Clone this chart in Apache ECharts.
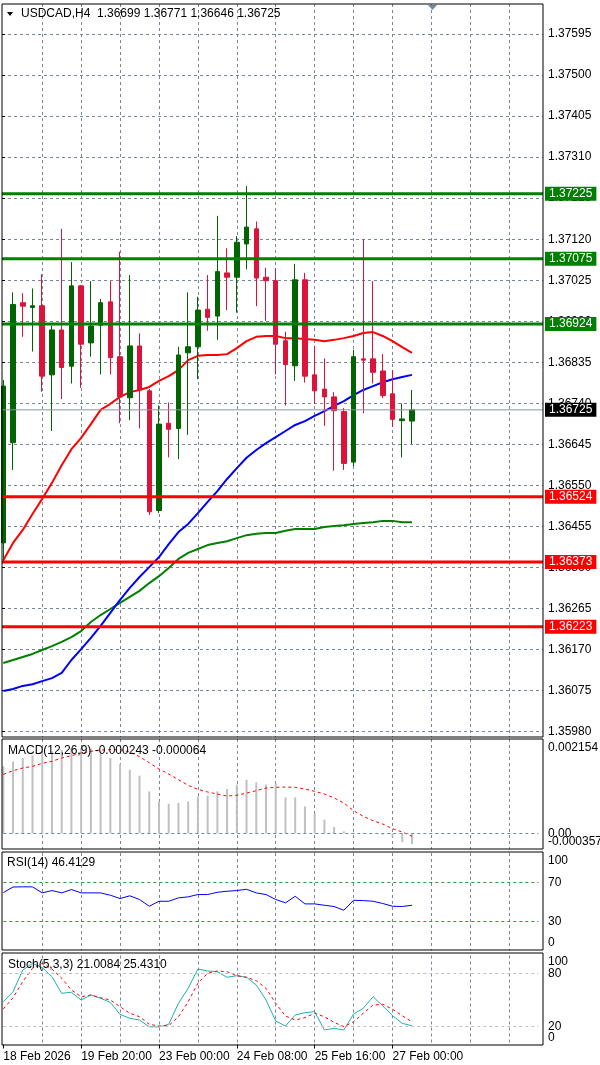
<!DOCTYPE html>
<html>
<head>
<meta charset="utf-8">
<title>USDCAD,H4</title>
<script src="https://cdn.jsdelivr.net/npm/echarts@6.0.0/dist/echarts.min.js"></script>
<style>
html, body { margin: 0; padding: 0; background: #fff; }
#chart { width: 600px; height: 1065px; }
</style>
</head>
<body>
<div id="chart"></div>
<script>
//H4 bars, oldest first
var opens  = [1.36417,1.36649,1.36973,1.36962,1.36966,1.36806,1.36910,1.36826,1.37012,1.36880,1.36921,1.36975,1.36848,1.36753,1.36873,1.36769,1.36492,1.36694,1.36682,1.36857,1.36871,1.36958,1.36942,1.37042,1.37032,1.37109,1.37144,1.37032,1.37024,1.36885,1.36827,1.37026,1.36806,1.36773,1.36755,1.36721,1.36604,1.36843,1.36843,1.36815,1.36762,1.36700,1.36699];
var highs  = [1.36794,1.36997,1.36995,1.37006,1.37039,1.36920,1.37144,1.37067,1.37014,1.37023,1.36982,1.37023,1.37091,1.37037,1.36902,1.36773,1.36735,1.36742,1.36871,1.36997,1.36987,1.37037,1.37174,1.37099,1.37127,1.37243,1.37161,1.37054,1.37053,1.36906,1.37063,1.37042,1.36873,1.36844,1.36766,1.36729,1.36864,1.37120,1.37023,1.36854,1.36817,1.36740,1.36771];
var lows   = [1.36371,1.36586,1.36894,1.36860,1.36767,1.36676,1.36750,1.36786,1.36776,1.36848,1.36807,1.36807,1.36694,1.36701,1.36682,1.36482,1.36486,1.36615,1.36611,1.36667,1.36796,1.36908,1.36887,1.36956,1.36950,1.37050,1.36965,1.36931,1.36807,1.36735,1.36792,1.36788,1.36739,1.36688,1.36584,1.36586,1.36595,1.36717,1.36786,1.36752,1.36685,1.36615,1.36646];
var closes = [1.36780,1.36969,1.36965,1.36966,1.36803,1.36910,1.36823,1.37012,1.36877,1.36919,1.36973,1.36846,1.36755,1.36873,1.36771,1.36489,1.36692,1.36680,1.36852,1.36871,1.36956,1.36939,1.37045,1.37032,1.37113,1.37148,1.37030,1.37024,1.36877,1.36830,1.37026,1.36803,1.36769,1.36755,1.36723,1.36601,1.36848,1.36840,1.36812,1.36758,1.36703,1.36704,1.36725];

//moving averages
var maRed   = [1.36377,1.36417,1.36447,1.36484,1.36519,1.36556,1.36597,1.36634,1.36660,1.36692,1.36725,1.36739,1.36755,1.36766,1.36771,1.36778,1.36792,1.36803,1.36817,1.36840,1.36850,1.36852,1.36852,1.36854,1.36868,1.36884,1.36894,1.36896,1.36896,1.36891,1.36891,1.36889,1.36887,1.36884,1.36887,1.36891,1.36896,1.36903,1.36905,1.36896,1.36884,1.36870,1.36857];
var maBlue  = [1.36074,1.36079,1.36086,1.36090,1.36097,1.36104,1.36116,1.36146,1.36171,1.36197,1.36225,1.36255,1.36285,1.36313,1.36338,1.36361,1.36384,1.36414,1.36442,1.36461,1.36486,1.36512,1.36537,1.36565,1.36590,1.36614,1.36632,1.36648,1.36662,1.36676,1.36690,1.36699,1.36711,1.36722,1.36734,1.36745,1.36759,1.36771,1.36780,1.36789,1.36796,1.36801,1.36806];
var maGreen = [1.36139,1.36146,1.36153,1.36160,1.36169,1.36178,1.36188,1.36199,1.36213,1.36234,1.36250,1.36264,1.36278,1.36292,1.36306,1.36324,1.36340,1.36359,1.36380,1.36394,1.36403,1.36412,1.36417,1.36421,1.36428,1.36435,1.36438,1.36440,1.36440,1.36445,1.36449,1.36449,1.36449,1.36454,1.36456,1.36458,1.36461,1.36463,1.36465,1.36468,1.36468,1.36465,1.36465];

//horizontal levels
var greenLevels = [1.37225, 1.37075, 1.36924];
var redLevels = [1.36524, 1.36373, 1.36223];

//price scale
var priceMin = 1.35980, priceMax = 1.37595, priceStep = 0.00095;

//MACD(12,26,9)
var macdHist   = [0.001530,0.001644,0.001720,0.001781,0.001834,0.001872,0.001910,0.001933,0.001948,0.001933,0.001872,0.001720,0.001583,0.001454,0.001317,0.000959,0.000731,0.000677,0.000693,0.000731,0.000845,0.000860,0.000959,0.001012,0.001111,0.001225,0.001164,0.001111,0.001134,0.000822,0.000822,0.000616,0.000449,0.000312,0.000145,0.000046,0.000015,0.000015,0.000005,-0.000030,-0.000076,-0.000198,-0.000243];
var macdSignal = [0.001347,0.001431,0.001492,0.001530,0.001598,0.001644,0.001720,0.001773,0.001834,0.001872,0.001903,0.001910,0.001910,0.001857,0.001750,0.001613,0.001469,0.001355,0.001225,0.001096,0.001005,0.000944,0.000898,0.000852,0.000868,0.000921,0.000974,0.001035,0.001050,0.001058,0.001050,0.001012,0.000959,0.000898,0.000807,0.000693,0.000517,0.000388,0.000289,0.000213,0.000107,0.000030,-0.000064];
var macdTicks  = [0.002154, 0, -0.000357];

//RSI(14)
var rsi = [59.4,65.1,65.3,65.3,59.1,61.5,59.1,62.5,59.1,59.1,59.1,56.7,53.3,56.1,52.3,45.4,50.5,50.5,54.0,55.0,57.4,57.4,59.7,60.8,61.5,62.8,59.1,57.4,52.3,48.9,55.6,47.8,47.8,46.4,45.1,41.3,51.5,51.2,50.5,48.2,45.4,45.1,46.4129];
var rsiTicks = [100, 70, 30, 0];

//Stoch(5,3,3)
var stochMain   = [48.1,59.3,83.7,91.2,86.3,76.2,57.5,58.7,50.0,55.6,51.9,47.4,33.9,29.4,27.5,20.0,19.7,22.7,46.3,63.1,84.8,82.6,81.8,75.5,77.3,75.5,66.9,50.0,26.4,20.8,33.1,35.7,36.9,16.3,18.2,16.3,34.3,40.7,53.7,43.3,32.4,23.8,21.0084];
var stochSignal = [39.9,52.6,70.6,85.6,91.2,84.8,74.4,61.2,53.7,55.6,52.6,50.0,42.5,35.1,31.2,22.7,20.8,21.1,31.2,48.1,68.8,80.0,82.6,81.8,77.3,75.5,71.7,63.1,46.3,32.0,27.5,30.1,35.1,31.2,24.9,20.0,25.6,35.1,44.4,45.2,39.6,32.4,25.431];
var stochTicks = [100, 80, 20, 0];

//time axis
var barSlots = 56;
var xTickBar  = [0, 8, 16, 24, 32, 40];
var xTickText = ['18 Feb 2026', '19 Feb 20:00', '23 Feb 00:00', '24 Feb 08:00', '25 Feb 16:00', '27 Feb 00:00'];

var FONT = 'Liberation Sans';
var last = closes.length - 1;

var categories = [];
for (var i = 0; i < barSlots; i++) categories.push(String(i));

var candleData = [];
for (var k = 0; k < opens.length; k++) {
	candleData.push([opens[k], closes[k], lows[k], highs[k]]);
}

var gridDash = { color: '#778899', type: [3, 3], width: 1 };
var L = 3.3, W = 535.15;

function near(a, b) { return Math.abs(a - b) < 1e-9; }

//category axis for a panel
function catAxis(gridIndex, withGrid) {
	return {
		type: 'category', gridIndex: gridIndex, data: categories, boundaryGap: false,
		axisLine: { show: false }, axisTick: { show: false }, axisLabel: { show: false },
		splitLine: {
			show: withGrid,
			interval: function (idx) { return idx > 0 && idx % 4 === 0; },
			lineStyle: gridDash
		}
	};
}

//right side value labels of a sub window, one axis per label so none get hidden
function subAxes(gridIndex, min, max, ticks, digits, padTop, padBot) {
	return ticks.map(function (t) {
		var s = (t === 0 && digits > 0) ? '0.00' : t.toFixed(digits);
		var txt = s, rich = {};
		if (near(t, max)) { txt = '{t|' + s + '}'; rich.t = { color: '#000', fontFamily: FONT, fontSize: 12, padding: [padTop, 0, 0, 0] }; }
		if (near(t, min)) { txt = '{b|' + s + '}'; rich.b = { color: '#000', fontFamily: FONT, fontSize: 12, padding: [0, 0, padBot, 0] }; }
		return {
			type: 'value', gridIndex: gridIndex, position: 'right', min: min, max: max, offset: 4.55,
			axisLine: { show: false }, axisTick: { show: false }, splitLine: { show: false },
			axisLabel: {
				customValues: [t], margin: 5, color: '#000', fontFamily: FONT, fontSize: 12,
				hideOverlap: false, showMinLabel: true, showMaxLabel: true,
				formatter: function () { return txt; },
				rich: rich
			}
		};
	});
}

function levelSeries(price, color, width, box) {
	return {
		type: 'line', xAxisIndex: 2, yAxisIndex: 2, data: [[0, price], [1, price]],
		symbol: 'none', silent: true, z: 4,
		lineStyle: { color: color, width: width },
		endLabel: {
			show: true, distance: 2, color: '#fff', backgroundColor: box, padding: [1, 4],
			fontFamily: FONT, fontSize: 12,
			formatter: function () { return price.toFixed(5); }
		}
	};
}

var xAxes = [
	catAxis(0, true),
	catAxis(1, false),
	{ type: 'value', gridIndex: 2, min: 0, max: 1, show: false },
	catAxis(3, true),
	catAxis(4, true),
	catAxis(5, true)
];
//time labels under the last window
xAxes[5].axisLabel = {
	show: true, color: '#000', fontFamily: FONT, fontSize: 12, align: 'left', margin: 6,
	interval: function (idx) { return xTickBar.indexOf(idx) >= 0; },
	formatter: function (v, idx) { return xTickText[xTickBar.indexOf(idx)]; }
};
xAxes[5].axisTick = {
	show: true, length: 4, lineStyle: { color: '#000' },
	interval: function (idx) { return xTickBar.indexOf(idx) >= 0; }
};

var yAxes = [
	{ type: 'value', gridIndex: 0, min: 0, max: 1, axisLine: { show: false }, axisTick: { show: false }, axisLabel: { show: false }, splitLine: { show: false } },
	{ type: 'value', gridIndex: 1, min: priceMin, max: priceMax, show: false },
	{
		type: 'value', gridIndex: 2, position: 'right', min: priceMin, max: priceMax, interval: priceStep,
		axisLine: { show: false },
		axisTick: { show: true, length: 3, lineStyle: { color: '#000' } },
		axisLabel: { margin: 5, color: '#000', fontFamily: FONT, fontSize: 12, hideOverlap: false, formatter: function (v) { return v.toFixed(5); } },
		splitLine: { show: true, lineStyle: gridDash }
	}
];
var macdAxis = yAxes.length;
yAxes = yAxes.concat(subAxes(3, -0.000357, 0.002154, macdTicks, 6, 18, 14));
var rsiAxis = yAxes.length;
yAxes = yAxes.concat(subAxes(4, 0, 100, rsiTicks, 0, 16, 16));
var stochAxis = yAxes.length;
yAxes = yAxes.concat(subAxes(5, 0, 100, stochTicks, 0, 12, 14));

var series = [
	{
		type: 'candlestick', xAxisIndex: 1, yAxisIndex: 1, data: candleData, barWidth: 5, z: 3,
		itemStyle: { color: '#006400', color0: '#dc143c', borderColor: '#006400', borderColor0: '#dc143c', borderWidth: 1 }
	},
	{ type: 'line', xAxisIndex: 1, yAxisIndex: 1, data: maGreen, symbol: 'none', silent: true, z: 2, lineStyle: { color: '#008000', width: 2 } },
	{ type: 'line', xAxisIndex: 1, yAxisIndex: 1, data: maBlue, symbol: 'none', silent: true, z: 2, lineStyle: { color: '#0000ff', width: 2 } },
	{ type: 'line', xAxisIndex: 1, yAxisIndex: 1, data: maRed, symbol: 'none', silent: true, z: 2, lineStyle: { color: '#ff0000', width: 2 } },
	//MACD
	{
		type: 'bar', xAxisIndex: 3, yAxisIndex: macdAxis, data: macdHist, barWidth: 2, silent: true,
		itemStyle: { color: '#c0c0c0' },
		markLine: { silent: true, symbol: ['none', 'none'], label: { show: false }, lineStyle: gridDash, data: [{ yAxis: 0 }] }
	},
	{ type: 'line', xAxisIndex: 3, yAxisIndex: macdAxis, data: macdSignal, symbol: 'none', silent: true, lineStyle: { color: '#ff0000', width: 1, type: [3, 3] } },
	//RSI
	{
		type: 'line', xAxisIndex: 4, yAxisIndex: rsiAxis, data: rsi, symbol: 'none', silent: true, lineStyle: { color: '#0000ff', width: 1 },
		markLine: { silent: true, symbol: ['none', 'none'], label: { show: false }, lineStyle: { color: '#339933', type: [3, 3], width: 1 }, data: [{ yAxis: 70 }, { yAxis: 30 }] }
	},
	//Stochastic
	{
		type: 'line', xAxisIndex: 5, yAxisIndex: stochAxis, data: stochMain, symbol: 'none', silent: true, lineStyle: { color: '#20b2aa', width: 1 },
		markLine: { silent: true, symbol: ['none', 'none'], label: { show: false }, lineStyle: { color: '#c0c0c0', type: [3, 3], width: 1 }, data: [{ yAxis: 80 }, { yAxis: 20 }] }
	},
	{ type: 'line', xAxisIndex: 5, yAxisIndex: stochAxis, data: stochSignal, symbol: 'none', silent: true, lineStyle: { color: '#ff0000', width: 1, type: [3, 3] } }
];

greenLevels.forEach(function (p) { series.push(levelSeries(p, '#008000', 3, '#008000')); });
redLevels.forEach(function (p) { series.push(levelSeries(p, '#ff0000', 3, '#ff0000')); });
series.push(levelSeries(closes[last], '#8a939f', 1, '#000000'));

function frame(y, h) {
	return { type: 'rect', silent: true, z: 100, shape: { x: 2, y: y, width: 541, height: h }, style: { fill: 'none', stroke: '#000', lineWidth: 1 } };
}
function caption(x, y, text) {
	return { type: 'text', silent: true, z: 101, x: x, y: y, style: { text: text, fill: '#000', font: '12px "' + FONT + '"', verticalAlign: 'middle' } };
}

var header = 'USDCAD,H4  ' + opens[last].toFixed(5) + ' ' + highs[last].toFixed(5) + ' ' + lows[last].toFixed(5) + ' ' + closes[last].toFixed(5);

var chart = echarts.init(document.getElementById('chart'));
chart.setOption({
	animation: false,
	backgroundColor: '#ffffff',
	textStyle: { fontFamily: FONT },
	grid: [
		{ left: L, top: 4, width: W, height: 733, outerBoundsMode: 'none', containLabel: false },
		{ left: L, top: 34, width: W, height: 697.7, outerBoundsMode: 'none', containLabel: false },
		{ left: 2, top: 34, width: 541, height: 697.7, outerBoundsMode: 'none', containLabel: false },
		{ left: L, top: 739, width: W, height: 110, outerBoundsMode: 'none', containLabel: false },
		{ left: L, top: 853, width: W, height: 97.5, outerBoundsMode: 'none', containLabel: false },
		{ left: L, top: 955.5, width: W, height: 89, outerBoundsMode: 'none', containLabel: false }
	],
	xAxis: xAxes,
	yAxis: yAxes,
	series: series,
	graphic: [
		frame(4, 733), frame(739, 110), frame(852, 98), frame(953, 92),
		{ type: 'polygon', silent: true, z: 101, shape: { points: [[7, 12], [13, 12], [10, 16]] }, style: { fill: '#000' } },
		{ type: 'polygon', silent: true, z: 101, shape: { points: [[428, 5], [437, 5], [432.5, 10]] }, style: { fill: '#778899' } },
		caption(21, 14, header),
		caption(8, 751, 'MACD(12,26,9) ' + macdHist[last].toFixed(6) + ' ' + macdSignal[last].toFixed(6)),
		caption(7, 863, 'RSI(14) ' + rsi[last].toFixed(4)),
		caption(8, 965, 'Stoch(5,3,3) ' + stochMain[last].toFixed(4) + ' ' + stochSignal[last].toFixed(4))
	]
});
</script>
</body>
</html>
